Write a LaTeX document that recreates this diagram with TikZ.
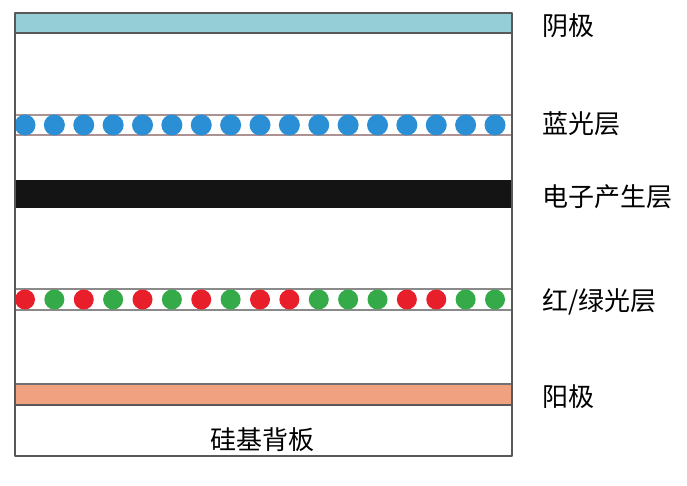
\documentclass[tikz,border=0pt]{standalone}
\usepackage{fontspec}
\newfontfamily\cjk{Noto Sans CJK SC}
\definecolor{cathode}{RGB}{150,206,216}
\definecolor{anode}{RGB}{240,162,128}
\definecolor{bluedot}{RGB}{42,143,213}
\definecolor{reddot}{RGB}{232,30,42}
\definecolor{greendot}{RGB}{52,170,72}
\definecolor{framegray}{RGB}{88,88,88}
\definecolor{blueline}{RGB}{172,146,146}
\definecolor{rgline}{RGB}{138,138,138}
\tikzset{
  layerlabel/.style={anchor=west,inner sep=0pt},
  dotlayer/.style={line width=1.8pt},
}
\begin{document}
\begin{tikzpicture}[x=1pt,y=-1pt,line join=round,font=\cjk\fontsize{26pt}{30pt}\selectfont]
    \useasboundingbox (0,0) rectangle (687,486);
    %阴极
    \fill[cathode] (15,13) rectangle (512,33);
    \draw[framegray,line width=2pt] (15,33)--(512,33);
    %蓝光层
    \draw[dotlayer,blueline] (15,115)--(512,115) (15,135)--(512,135);
    \foreach \i in {0,...,16}
        \fill[bluedot] (25+29.375*\i,125) circle[radius=10.5pt];
    %电子产生层
    \fill[black!92] (15,180) rectangle (512,208);
    %红/绿光层
    \draw[dotlayer,rgline] (15,289)--(512,289) (15,310)--(512,310);
    \foreach \c [count=\i from 0] in {reddot,greendot,reddot,greendot,reddot,greendot,reddot,greendot,reddot,reddot,greendot,greendot,greendot,reddot,reddot,greendot,greendot}
        \fill[\c] (25+29.375*\i,299.5) circle[radius=10pt];
    %阳极
    \fill[anode] (15,384) rectangle (512,405);
    \draw[framegray!85,line width=2.8pt] (15,384)--(512,384);
    \draw[framegray,line width=1.6pt] (15,405)--(512,405);
    %外框
    \draw[framegray,line width=2.8pt] (15,13) rectangle (512,456);
    %文字
    \node (backplane) at (262,440) {硅基背板};
    \node[layerlabel] (cathodelbl) at (542,26) {阴极};
    \node[layerlabel] (bluelbl) at (542,124) {蓝光层};
    \node[layerlabel] (electronlbl) at (542,197) {电子产生层};
    \node[layerlabel] (rglbl) at (542,302) {红/绿光层};
    \node[layerlabel] (anodelbl) at (542,397) {阳极};
\end{tikzpicture}
\end{document}
